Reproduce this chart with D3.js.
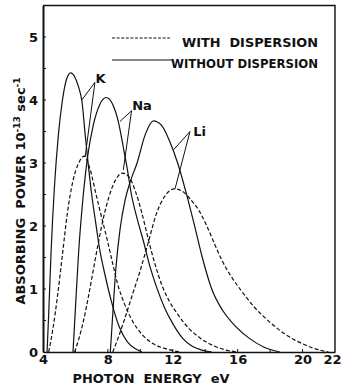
<!DOCTYPE html>
<html><head><meta charset="utf-8">
<script src="https://cdn.jsdelivr.net/npm/d3@7/dist/d3.min.js"></script>
<style>
body{margin:0;background:#fff;}
text{font-family:"DejaVu Sans","Liberation Sans",sans-serif;font-weight:bold;fill:#111;white-space:pre;}
</style></head>
<body><svg id="c" width="341" height="387"></svg>
<script>
// ---- data ----
const xTicks = [4, 8, 12, 16, 20, 22];
const yTicks = [0, 1, 2, 3, 4, 5];
const kWithout = [[4.25,0],[4.35,0.6],[4.5,1.6],[4.7,2.6],[4.95,3.45],[5.2,4.0],[5.45,4.33],[5.7,4.43],[5.95,4.37],[6.2,4.2],[6.4,3.98],[6.6,3.45],[6.8,2.95],[7.0,2.5],[7.25,2.05],[7.5,1.62],[7.8,1.25],[8.2,0.82],[8.7,0.4],[9.2,0.16],[9.7,0.05],[10.1,0]];
const kWith = [[4.35,0],[4.6,0.35],[4.9,0.9],[5.2,1.55],[5.5,2.2],[5.85,2.72],[6.2,3.0],[6.55,3.11],[6.9,2.9],[7.3,2.47],[7.65,2.1],[7.95,1.79],[8.3,1.4],[8.6,1.08],[9.0,0.78],[9.5,0.5],[10.1,0.28],[10.8,0.13],[11.6,0.05],[12.4,0]];
const naWithout = [[5.85,0],[6.0,0.7],[6.2,1.6],[6.45,2.4],[6.75,3.1],[7.1,3.6],[7.5,3.93],[7.9,4.04],[8.3,3.93],[8.65,3.65],[8.95,3.25],[9.2,2.9],[9.45,2.5],[9.8,2.12],[10.2,1.75],[10.6,1.35],[11.0,1.03],[11.5,0.7],[12.0,0.45],[12.6,0.22],[13.2,0.09],[13.8,0.03],[14.4,0]];
const naWith = [[5.95,0],[6.2,0.2],[6.5,0.5],[6.8,0.88],[7.1,1.3],[7.4,1.72],[7.7,2.1],[8.05,2.45],[8.45,2.72],[8.9,2.84],[9.3,2.78],[9.7,2.55],[10.1,2.2],[10.5,1.78],[10.9,1.4],[11.3,1.08],[11.8,0.8],[12.3,0.6],[12.9,0.4],[13.7,0.22],[14.5,0.1],[15.3,0.03],[16.0,0]];
const liWithout = [[8.15,0],[8.3,0.6],[8.5,1.35],[8.75,1.95],[9.05,2.4],[9.4,2.72],[9.8,3.0],[10.3,3.45],[10.8,3.67],[11.3,3.6],[11.8,3.35],[12.3,3.0],[12.8,2.55],[13.3,2.05],[13.8,1.52],[14.4,1.0],[15.1,0.65],[15.9,0.4],[16.7,0.22],[17.6,0.08],[18.6,0]];
const liWith = [[8.3,0],[8.6,0.2],[9.0,0.5],[9.5,0.9],[10.0,1.3],[10.5,1.75],[11.0,2.2],[11.5,2.47],[12.1,2.59],[12.6,2.55],[13.1,2.42],[13.6,2.25],[14.1,2.0],[14.6,1.7],[15.1,1.42],[15.6,1.2],[16.2,0.98],[17.0,0.72],[18.0,0.47],[19.0,0.27],[20.0,0.13],[20.8,0.05],[21.6,0]];
// annotation labels: [label, labelPos, pointerStart, target1, target2] in data units
const labels = [
  ["K",  [7.55,4.35], [7.2,4.28],  [6.39,4.0],  [6.6,3.1]],
  ["Na", [10.1,3.92], [9.46,3.83], [8.75,3.66], [8.95,2.89]],
  ["Li", [13.65,3.51],[13.06,3.5], [12.05,3.21],[12.14,2.59]]
];
const legendItems = [["WITH  DISPERSION", true], ["WITHOUT DISPERSION", false]];

// ---- drawing ----
const svg = d3.select("#c");
const x = d3.scaleLinear().domain([4, 22]).range([43, 335]);
const y = d3.scaleLinear().domain([0, 5.5]).range([352, 5.5]);

// frame
svg.append("path").attr("d", `M${x(4)},${y(5.5)}H${x(22)}V${y(0)}`)
  .attr("fill","none").attr("stroke","#111").attr("stroke-width",1.4);
// axes
const yAxis = d3.axisLeft(y).tickValues(yTicks).tickSize(0).tickPadding(5).tickFormat(d3.format("d"));
const gy = svg.append("g").attr("transform",`translate(${x(4)},0)`).call(yAxis);
gy.select(".domain").attr("stroke","#111").attr("stroke-width",2);
gy.selectAll("text").style("font-size","13px").style("font-family","DejaVu Sans").style("font-weight","bold");
const xAxis = d3.axisBottom(x).tickValues(xTicks).tickSize(0).tickPadding(3).tickFormat(d3.format("d"));
const gx = svg.append("g").attr("transform",`translate(0,${y(0)})`).call(xAxis);
gx.select(".domain").attr("stroke","#111").attr("stroke-width",1.6);
gx.selectAll("text").style("font-size","13px").style("font-family","DejaVu Sans").style("font-weight","bold");
gx.selectAll(".tick").filter(d=>d===22).select("text").attr("text-anchor","end").attr("x",6);
// inner minor ticks
const yMinor = d3.range(0.5, 5.5, 0.5);
svg.append("g").selectAll("line").data(yMinor).join("line")
  .attr("x1",x(4)).attr("x2",x(4)+3).attr("y1",d=>y(d)).attr("y2",d=>y(d))
  .attr("stroke","#111").attr("stroke-width",1);
const xMinor = d3.range(6, 22, 2);
svg.append("g").selectAll("line").data(xMinor).join("line")
  .attr("x1",d=>x(d)).attr("x2",d=>x(d)).attr("y1",y(0)).attr("y2",y(0)-3)
  .attr("stroke","#111").attr("stroke-width",1);

// curves
const line = d3.line().x(d=>x(d[0])).y(d=>y(d[1])).curve(d3.curveMonotoneX);
const series = [[kWithout,false],[kWith,true],[naWithout,false],[naWith,true],[liWithout,false],[liWith,true]];
svg.append("g").selectAll("path").data(series).join("path")
  .attr("d",d=>line(d[0])).attr("fill","none").attr("stroke","#111")
  .attr("stroke-width",1.2).attr("stroke-dasharray",d=>d[1]?"4,2.2":null);

// annotations
labels.forEach(([t,lp,ps,t1,t2])=>{
  svg.append("text").attr("x",x(lp[0])).attr("y",y(lp[1])).attr("dy","0.36em")
    .attr("text-anchor","middle").style("font-size","13px").text(t);
  [t1,t2].forEach(tg=>svg.append("line").attr("x1",x(ps[0])).attr("y1",y(ps[1]))
    .attr("x2",x(tg[0])).attr("y2",y(tg[1])).attr("stroke","#111").attr("stroke-width",1));
});

// legend
const lg = svg.append("g");
lg.append("line").attr("x1",112).attr("x2",170).attr("y1",38).attr("y2",38)
  .attr("stroke","#111").attr("stroke-width",1.2).attr("stroke-dasharray","3,1.6");
lg.append("text").attr("x",182).attr("y",47).attr("textLength",136).attr("lengthAdjust","spacingAndGlyphs")
  .style("font-size","13px").text(legendItems[0][0]);
lg.append("line").attr("x1",112).attr("x2",172).attr("y1",60).attr("y2",60)
  .attr("stroke","#111").attr("stroke-width",1.2);
lg.append("text").attr("x",171).attr("y",68).attr("textLength",147).attr("lengthAdjust","spacingAndGlyphs")
  .style("font-size","13px").text(legendItems[1][0]);

// axis titles
svg.append("text").attr("x",151).attr("y",383).attr("text-anchor","middle")
  .attr("textLength",157).attr("lengthAdjust","spacingAndGlyphs")
  .style("font-size","13px").text("PHOTON  ENERGY  eV");
const yt = svg.append("text").attr("transform","translate(25,191) rotate(-90)")
  .attr("text-anchor","middle").style("font-size","13px");
yt.append("tspan").text("ABSORBING  POWER 10");
yt.append("tspan").attr("dy",-5).style("font-size","9px").text("-13");
yt.append("tspan").attr("dy",5).text(" sec");
yt.append("tspan").attr("dy",-5).style("font-size","9px").text("-1");
</script></body></html>
